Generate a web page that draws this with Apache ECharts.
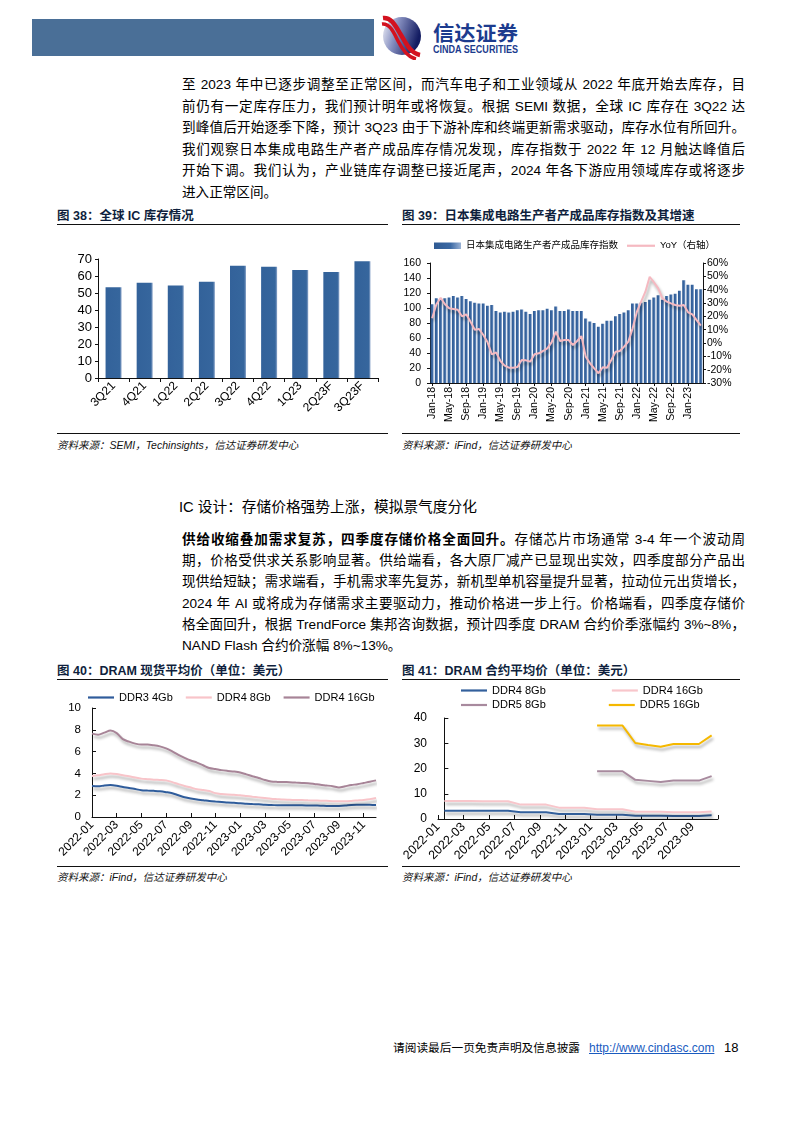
<!DOCTYPE html>
<html>
<head>
<meta charset="utf-8">
<script src="https://cdn.jsdelivr.net/npm/echarts/dist/echarts.min.js"></script>
<style>
body { margin: 0; background: #fff; }
#page { position: relative; width: 794px; height: 1123px; overflow: hidden; background: #fff;
  font-family: "Liberation Sans", "Noto Sans CJK SC", sans-serif; color: #000; }
.abs { position: absolute; }
.para { position: absolute; left: 182px; width: 563px; font-size: 13.6px; }
.para div { text-align: justify; text-align-last: justify; }
.para div.last { text-align-last: left; }
.p1 div { height: 21.6px; line-height: 21.6px; }
.p2 div { height: 21.2px; line-height: 21.2px; }
.ftitle { position: absolute; font-size: 12.5px; font-weight: bold; color: #0f1f3d; line-height: 16px; white-space: nowrap; }
.rule { position: absolute; height: 0; border-top: 1.3px solid #111; }
.src { position: absolute; font-size: 10.5px; font-style: italic; color: #111; line-height: 14px; white-space: nowrap; }
#chart { position: absolute; left: 0; top: 0; width: 794px; height: 1123px; }
</style>
</head>
<body>
<div id="page">
  <!-- header -->
  <div class="abs" style="left:32px;top:19px;width:342px;height:37px;background:#4a6f97"></div>
  <svg class="abs" style="left:380px;top:14px" width="145" height="46">
    <defs>
      <linearGradient id="ball" x1="0" y1="0" x2="1" y2="0.3">
        <stop offset="0" stop-color="#f2f3f8"/>
        <stop offset="0.4" stop-color="#8a93c3"/>
        <stop offset="1" stop-color="#131c62"/>
      </linearGradient>
    </defs>
    <circle cx="22" cy="22" r="19" fill="url(#ball)"/>
    <path d="M3,4 C12,3 16,13 21,21 S30,39 40,41" stroke="#d3121f" stroke-width="4.5" fill="none"/>
    <path d="M2,10 C10,9 14,19 18,27 S27,43 36,45" stroke="#d3121f" stroke-width="3.5" fill="none"/>
    <text x="53" y="27" font-size="20" font-weight="bold" fill="#1c3b8e" textLength="85" lengthAdjust="spacingAndGlyphs"
      font-family="Noto Sans CJK SC">信达证券</text>
    <text x="53" y="39" font-size="10.5" font-weight="bold" fill="#1c3b8e" textLength="85" lengthAdjust="spacingAndGlyphs"
      font-family="Liberation Sans">CINDA SECURITIES</text>
  </svg>

  <!-- paragraph 1 -->
  <div class="para p1" style="top:74px">
    <div>至 2023 年中已逐步调整至正常区间，而汽车电子和工业领域从 2022 年底开始去库存，目</div>
    <div>前仍有一定库存压力，我们预计明年或将恢复。根据 SEMI 数据，全球 IC 库存在 3Q22 达</div>
    <div>到峰值后开始逐季下降，预计 3Q23 由于下游补库和终端更新需求驱动，库存水位有所回升。</div>
    <div>我们观察日本集成电路生产者产成品库存情况发现，库存指数于 2022 年 12 月触达峰值后</div>
    <div>开始下调。我们认为，产业链库存调整已接近尾声，2024 年各下游应用领域库存或将逐步</div>
    <div class="last">进入正常区间。</div>
  </div>

  <!-- figure 38 / 39 frames -->
  <div class="ftitle" style="left:57px;top:207.5px">图 38：全球 IC 库存情况</div>
  <div class="rule" style="left:57px;top:224px;width:331px"></div>
  <div class="rule" style="left:57px;top:432.5px;width:331px"></div>
  <div class="src" style="left:57px;top:437.5px">资料来源：SEMI，Techinsights，信达证券研发中心</div>

  <div class="ftitle" style="left:402px;top:207.5px">图 39：日本集成电路生产者产成品库存指数及其增速</div>
  <div class="rule" style="left:402px;top:224px;width:338px"></div>
  <div class="rule" style="left:402px;top:432.5px;width:338px"></div>
  <div class="src" style="left:402px;top:437.5px">资料来源：iFind，信达证券研发中心</div>

  <!-- section -->
  <div class="abs" style="left:179px;top:498px;font-size:14.7px;line-height:19px;white-space:nowrap">IC 设计：存储价格强势上涨，模拟景气度分化</div>

  <div class="para p2" style="top:529px">
    <div><b>供给收缩叠加需求复苏，四季度存储价格全面回升。</b>存储芯片市场通常 3-4 年一个波动周</div>
    <div>期，价格受供求关系影响显著。供给端看，各大原厂减产已显现出实效，四季度部分产品出</div>
    <div>现供给短缺；需求端看，手机需求率先复苏，新机型单机容量提升显著，拉动位元出货增长，</div>
    <div>2024 年 AI 或将成为存储需求主要驱动力，推动价格进一步上行。价格端看，四季度存储价</div>
    <div>格全面回升，根据 TrendForce 集邦咨询数据，预计四季度 DRAM 合约价季涨幅约 3%~8%，</div>
    <div class="last">NAND Flash 合约价涨幅 8%~13%。</div>
  </div>

  <!-- figure 40 / 41 frames -->
  <div class="ftitle" style="left:57px;top:662.5px">图 40：DRAM 现货平均价（单位：美元）</div>
  <div class="rule" style="left:57px;top:679px;width:331px"></div>
  <div class="rule" style="left:57px;top:865.5px;width:331px"></div>
  <div class="src" style="left:57px;top:869.5px">资料来源：iFind，信达证券研发中心</div>

  <div class="ftitle" style="left:402px;top:662.5px">图 41：DRAM 合约平均价（单位：美元）</div>
  <div class="rule" style="left:402px;top:679px;width:338px"></div>
  <div class="rule" style="left:402px;top:865.5px;width:338px"></div>
  <div class="src" style="left:402px;top:869.5px">资料来源：iFind，信达证券研发中心</div>

  <!-- footer -->
  <div class="abs" style="left:393px;top:1040px;font-size:11.7px;line-height:16px;white-space:nowrap">请阅读最后一页免责声明及信息披露</div>
  <div class="abs" style="left:589px;top:1040px;font-size:12px;line-height:16px;color:#1a5bbf;text-decoration:underline;white-space:nowrap">http://www.cindasc.com</div>
  <div class="abs" style="left:724px;top:1039.5px;font-size:13px;line-height:16px">18</div>

  <div id="chart"></div>
</div>

<script>
// 图38 全球IC库存
const quarters = ['3Q21', '4Q21', '1Q22', '2Q22', '3Q22', '4Q22', '1Q23', '2Q23F', '3Q23F'];
const icInventory = [53.4, 56, 54.4, 56.6, 66.1, 65.4, 63.6, 62.4, 68.7];

// 图39 日本集成电路库存指数 & YoY
const jpMonths = [
  'Jan-18', 'Feb-18', 'Mar-18', 'Apr-18', 'May-18', 'Jun-18', 'Jul-18', 'Aug-18', 'Sep-18', 'Oct-18', 'Nov-18', 'Dec-18',
  'Jan-19', 'Feb-19', 'Mar-19', 'Apr-19', 'May-19', 'Jun-19', 'Jul-19', 'Aug-19', 'Sep-19', 'Oct-19', 'Nov-19', 'Dec-19',
  'Jan-20', 'Feb-20', 'Mar-20', 'Apr-20', 'May-20', 'Jun-20', 'Jul-20', 'Aug-20', 'Sep-20', 'Oct-20', 'Nov-20', 'Dec-20',
  'Jan-21', 'Feb-21', 'Mar-21', 'Apr-21', 'May-21', 'Jun-21', 'Jul-21', 'Aug-21', 'Sep-21', 'Oct-21', 'Nov-21', 'Dec-21',
  'Jan-22', 'Feb-22', 'Mar-22', 'Apr-22', 'May-22', 'Jun-22', 'Jul-22', 'Aug-22', 'Sep-22', 'Oct-22', 'Nov-22', 'Dec-22',
  'Jan-23', 'Feb-23', 'Mar-23', 'Apr-23'
];
const jpIndex = [
  105, 113, 112, 113, 114, 116, 114, 116, 112, 109, 107, 106,
  106, 103, 104, 96, 94, 95, 94, 95, 97, 98, 95, 92,
  96, 97, 97, 99, 97, 102, 96, 96, 98, 96, 96, 96,
  86, 82, 80, 75, 79, 83, 83, 89, 92, 94, 97, 106,
  106, 107, 108, 111, 114, 117, 111, 116, 118, 119, 123, 137,
  131, 131, 125, 125
];
const jpYoY = [
  18.5, 29, 34, 29, 26, 25.5, 25, 20, 21.5, 16, 10, 10.5,
  6, 0.5, -8.5, -7, -13.5, -17, -18.5, -18.5, -18, -12.7, -13, -14,
  -8.5, -7.7, -6, -4, 0.5, 8.5, 1.5, 2.2, 2.2, -1.5, 1.5, 5.2,
  -10.2, -15.2, -19, -22.7, -18.2, -18.5, -12.7, -6.5, -6, -2.7, 1, 11,
  23.5, 31, 38.5, 49.7, 45.5, 41, 33.5, 31, 29.7, 28.5, 28, 28.5,
  23, 21.5, 17.2, 13
];

// 图40 DRAM 现货平均价（半月）
const spotDates = [
  '2022-01-01', '2022-01-16', '2022-02-01', '2022-02-16', '2022-03-01', '2022-03-16', '2022-04-01', '2022-04-16',
  '2022-05-01', '2022-05-16', '2022-06-01', '2022-06-16', '2022-07-01', '2022-07-16', '2022-08-01', '2022-08-16',
  '2022-09-01', '2022-09-16', '2022-10-01', '2022-10-16', '2022-11-01', '2022-11-16', '2022-12-01', '2022-12-16',
  '2023-01-01', '2023-01-16', '2023-02-01', '2023-02-16', '2023-03-01', '2023-03-16', '2023-04-01', '2023-04-16',
  '2023-05-01', '2023-05-16', '2023-06-01', '2023-06-16', '2023-07-01', '2023-07-16', '2023-08-01', '2023-08-16',
  '2023-09-01', '2023-09-16', '2023-10-01', '2023-10-16', '2023-11-01', '2023-11-16', '2023-12-01'
];
const spotDdr3_4Gb = [
  2.84, 2.81, 2.89, 2.93, 2.87, 2.76, 2.67, 2.56, 2.46, 2.43, 2.4, 2.36, 2.28, 2.18, 1.99, 1.81,
  1.69, 1.6, 1.54, 1.47, 1.42, 1.38, 1.33, 1.3, 1.27, 1.22, 1.19, 1.16, 1.12, 1.1, 1.08, 1.07,
  1.07, 1.07, 1.07, 1.06, 1.05, 1.04, 1.02, 1.01, 1.02, 1.05, 1.1, 1.12, 1.13, 1.12, 1.1
];
const spotDdr4_8Gb = [
  3.76, 3.82, 3.93, 4.0, 3.94, 3.83, 3.74, 3.62, 3.52, 3.47, 3.42, 3.4, 3.36, 3.2, 3.02, 2.85,
  2.7, 2.55, 2.47, 2.38, 2.19, 2.11, 2.06, 2.03, 2.0, 1.93, 1.86, 1.8, 1.74, 1.68, 1.64, 1.6,
  1.58, 1.56, 1.55, 1.53, 1.52, 1.5, 1.48, 1.45, 1.44, 1.44, 1.47, 1.52, 1.57, 1.64, 1.74
];
const spotDdr4_16Gb = [
  7.65, 7.55, 7.74, 7.94, 7.7, 7.14, 6.91, 6.73, 6.64, 6.64, 6.58, 6.48, 6.3, 6.02, 5.7, 5.42,
  5.18, 4.99, 4.75, 4.49, 4.4, 4.3, 4.23, 4.17, 4.08, 3.91, 3.74, 3.58, 3.4, 3.26, 3.22, 3.21,
  3.19, 3.16, 3.13, 3.1, 3.03, 2.95, 2.89, 2.82, 2.71, 2.82, 2.93, 3.01, 3.12, 3.23, 3.36
];

// 图41 DRAM 合约平均价（月）
const contractMonths = [
  '2022-01', '2022-02', '2022-03', '2022-04', '2022-05', '2022-06', '2022-07', '2022-08', '2022-09', '2022-10', '2022-11',
  '2022-12', '2023-01', '2023-02', '2023-03', '2023-04', '2023-05', '2023-06', '2023-07', '2023-08', '2023-09', '2023-10'
];
const ctDdr4_8Gb = [3.3, 3.3, 3.3, 3.3, 3.3, 3.3, 2.7, 2.7, 2.7, 2.0, 2.0, 2.0, 1.7, 1.7, 1.7, 1.25, 1.25, 1.25, 1.2, 1.2, 1.2, 1.45];
const ctDdr4_16Gb = [7.1, 7.1, 7.1, 7.0, 7.0, 7.0, 5.7, 5.7, 5.7, 4.5, 4.5, 4.5, 3.85, 3.85, 3.85, 2.9, 2.9, 2.9, 2.7, 2.7, 2.7, 3.0];
const ctDdr5_8Gb = [null, null, null, null, null, null, null, null, null, null, null, null,
  18.9, 18.9, 18.9, 15.5, 15.1, 14.7, 15.2, 15.2, 15.2, 17];
const ctDdr5_16Gb = [null, null, null, null, null, null, null, null, null, null, null, null,
  37, 37, 37, 30.1, 29.3, 28.6, 29.7, 29.7, 29.7, 33.1];

const FONT = '"Liberation Sans", "Noto Sans CJK SC", sans-serif';
const black = { show: true, lineStyle: { color: '#111', width: 1 } };
const lineShadow = { shadowColor: 'rgba(0,0,0,0.32)', shadowBlur: 3, shadowOffsetX: 1.5, shadowOffsetY: 3 };

const chart = echarts.init(document.getElementById('chart'));

// line-legend helper: flat rect icon so no symbol is drawn in the middle
function lineLegend(left, top, gap, names, size) {
  return {
    left: left, top: top, padding: 0, itemGap: gap, itemWidth: 26, itemHeight: 2.2, icon: 'rect',
    textStyle: { fontSize: size, color: '#000', fontFamily: FONT },
    data: names.map(n => ({ name: n, icon: 'rect' }))
  };
}

const option = {
  animation: false,
  backgroundColor: 'transparent',
  textStyle: { fontFamily: FONT, color: '#000' },
  grid: [
    { left: 98, top: 259, width: 280, height: 119, outerBoundsMode: 'none' },
    { left: 430, top: 263, width: 273, height: 120, outerBoundsMode: 'none' },
    { left: 92, top: 708, width: 284, height: 109, outerBoundsMode: 'none' },
    { left: 438, top: 718, width: 280, height: 101, outerBoundsMode: 'none' }
  ],
  legend: [
    {
      left: 434, top: 241, padding: 0, itemWidth: 27, itemHeight: 6.5,
      textStyle: { fontSize: 9.5, color: '#000', fontFamily: FONT },
      data: [{ name: '日本集成电路生产者产成品库存指数', icon: 'rect' }]
    },
    Object.assign(lineLegend(627, 241, 10, ['YoY（右轴）'], 9.5), { itemWidth: 28 }),
    lineLegend(88, 692, 13, ['DDR3 4Gb', 'DDR4 8Gb', 'DDR4 16Gb'], 11),
    lineLegend(461, 685, 63, ['DDR4 8Gb ', 'DDR4 16Gb '], 11),
    lineLegend(461, 699.5, 63, ['DDR5 8Gb', 'DDR5 16Gb'], 11)
  ],
  xAxis: [
    {
      type: 'category', gridIndex: 0, data: quarters, boundaryGap: true,
      axisLine: black, axisTick: { show: true, length: 4, lineStyle: { color: '#111' } },
      axisLabel: { rotate: 45, fontSize: 12, margin: 6, color: '#000', interval: 0 },
      splitLine: { show: false }
    },
    {
      type: 'category', gridIndex: 1, data: jpMonths, boundaryGap: true,
      axisLine: black,
      axisTick: { show: true, interval: 3, alignWithLabel: true, length: 3, lineStyle: { color: '#111' } },
      axisLabel: { rotate: 90, fontSize: 10.5, margin: 4, color: '#000', interval: 3 },
      splitLine: { show: false }
    },
    {
      type: 'category', gridIndex: 2, data: spotDates, boundaryGap: false,
      axisLine: black,
      axisTick: { show: true, inside: true, interval: 3, length: 4, lineStyle: { color: '#111' } },
      axisLabel: { rotate: 45, fontSize: 12, margin: 6, color: '#000', interval: 3, formatter: v => v.slice(0, 7) },
      splitLine: { show: false }
    },
    {
      type: 'value', gridIndex: 3, min: -0.5, max: 21.5, interval: 2,
      axisLine: black,
      axisTick: { show: true, inside: true, length: 4, lineStyle: { color: '#111' } },
      axisLabel: {
        rotate: 45, fontSize: 12.5, margin: 6, color: '#000', showMaxLabel: true, showMinLabel: true,
        formatter: v => contractMonths[Math.round(v + 0.5)] || ''
      },
      splitLine: { show: false }
    }
  ],
  yAxis: [
    {
      type: 'value', gridIndex: 0, min: 0, max: 70, interval: 10,
      axisLine: black, axisTick: { show: true, length: 3, lineStyle: { color: '#111' } },
      axisLabel: { fontSize: 13, margin: 6, color: '#000' }, splitLine: { show: false }
    },
    {
      type: 'value', gridIndex: 1, min: 0, max: 160, interval: 20,
      axisLine: black, axisTick: { show: true, length: 3, lineStyle: { color: '#111' } },
      axisLabel: { fontSize: 10.5, margin: 9, color: '#000' }, splitLine: { show: false }
    },
    {
      type: 'value', gridIndex: 1, position: 'right', min: -30, max: 60, interval: 10,
      axisLine: black, axisTick: { show: true, length: 3, lineStyle: { color: '#111' } },
      axisLabel: { fontSize: 10.5, margin: 4, color: '#000', formatter: '{value}%' }, splitLine: { show: false }
    },
    {
      type: 'value', gridIndex: 2, min: 0, max: 10, interval: 2,
      axisLine: black, axisTick: { show: true, inside: true, length: 4, lineStyle: { color: '#111' } },
      axisLabel: { fontSize: 11.5, margin: 11, color: '#000' }, splitLine: { show: false }
    },
    {
      type: 'value', gridIndex: 3, min: 0, max: 40, interval: 10,
      axisLine: black, axisTick: { show: true, inside: true, length: 4, lineStyle: { color: '#111' } },
      axisLabel: { fontSize: 12, margin: 11, color: '#000' }, splitLine: { show: false }
    }
  ],
  series: [
    {
      name: '全球IC库存', type: 'bar', xAxisIndex: 0, yAxisIndex: 0, data: icInventory, barWidth: 16,
      itemStyle: {
        color: { type: 'linear', x: 0, y: 0, x2: 1, y2: 0, colorStops: [
          { offset: 0, color: '#33629a' }, { offset: 0.88, color: '#36669d' }, { offset: 1, color: '#8ea7cb' }] }
      }
    },
    {
      name: '日本集成电路生产者产成品库存指数', type: 'bar', xAxisIndex: 1, yAxisIndex: 1, data: jpIndex,
      barCategoryGap: '26%',
      itemStyle: {
        color: { type: 'linear', x: 0, y: 0, x2: 1, y2: 0, colorStops: [
          { offset: 0, color: '#2f5a93' }, { offset: 0.6, color: '#3a68a3' }, { offset: 1, color: '#9ab2d5' }] }
      }
    },
    {
      name: 'YoY（右轴）', type: 'line', xAxisIndex: 1, yAxisIndex: 2, data: jpYoY, symbol: 'none',
      lineStyle: Object.assign({ color: '#f5b9c1', width: 2 }, lineShadow), itemStyle: { color: '#f5b9c1' }
    },
    {
      name: 'DDR3 4Gb', type: 'line', xAxisIndex: 2, yAxisIndex: 3, data: spotDdr3_4Gb, symbol: 'none', smooth: 0.3,
      lineStyle: Object.assign({ color: '#2f5c9b', width: 2 }, lineShadow), itemStyle: { color: '#2f5c9b' }
    },
    {
      name: 'DDR4 8Gb', type: 'line', xAxisIndex: 2, yAxisIndex: 3, data: spotDdr4_8Gb, symbol: 'none', smooth: 0.3,
      lineStyle: Object.assign({ color: '#f8c4c9', width: 2 }, lineShadow), itemStyle: { color: '#f8c4c9' }
    },
    {
      name: 'DDR4 16Gb', type: 'line', xAxisIndex: 2, yAxisIndex: 3, data: spotDdr4_16Gb, symbol: 'none', smooth: 0.3,
      lineStyle: Object.assign({ color: '#a78497', width: 2 }, lineShadow), itemStyle: { color: '#a78497' }
    },
    {
      name: 'DDR4 8Gb ', type: 'line', xAxisIndex: 3, yAxisIndex: 4, symbol: 'none',
      data: contractMonths.map((m, i) => [i, ctDdr4_8Gb[i]]),
      lineStyle: Object.assign({ color: '#33609c', width: 2 }, lineShadow), itemStyle: { color: '#33609c' }
    },
    {
      name: 'DDR4 16Gb ', type: 'line', xAxisIndex: 3, yAxisIndex: 4, symbol: 'none',
      data: contractMonths.map((m, i) => [i, ctDdr4_16Gb[i]]),
      lineStyle: Object.assign({ color: '#f8c6cb', width: 2 }, lineShadow), itemStyle: { color: '#f8c6cb' }
    },
    {
      name: 'DDR5 8Gb', type: 'line', xAxisIndex: 3, yAxisIndex: 4, symbol: 'none',
      data: contractMonths.map((m, i) => [i, ctDdr5_8Gb[i]]),
      lineStyle: Object.assign({ color: '#a88a9e', width: 2 }, lineShadow), itemStyle: { color: '#a88a9e' }
    },
    {
      name: 'DDR5 16Gb', type: 'line', xAxisIndex: 3, yAxisIndex: 4, symbol: 'none',
      data: contractMonths.map((m, i) => [i, ctDdr5_16Gb[i]]),
      lineStyle: Object.assign({ color: '#f5b800', width: 2 }, lineShadow), itemStyle: { color: '#f5b800' }
    }
  ]
};

chart.setOption(option);
</script>
</body>
</html>
